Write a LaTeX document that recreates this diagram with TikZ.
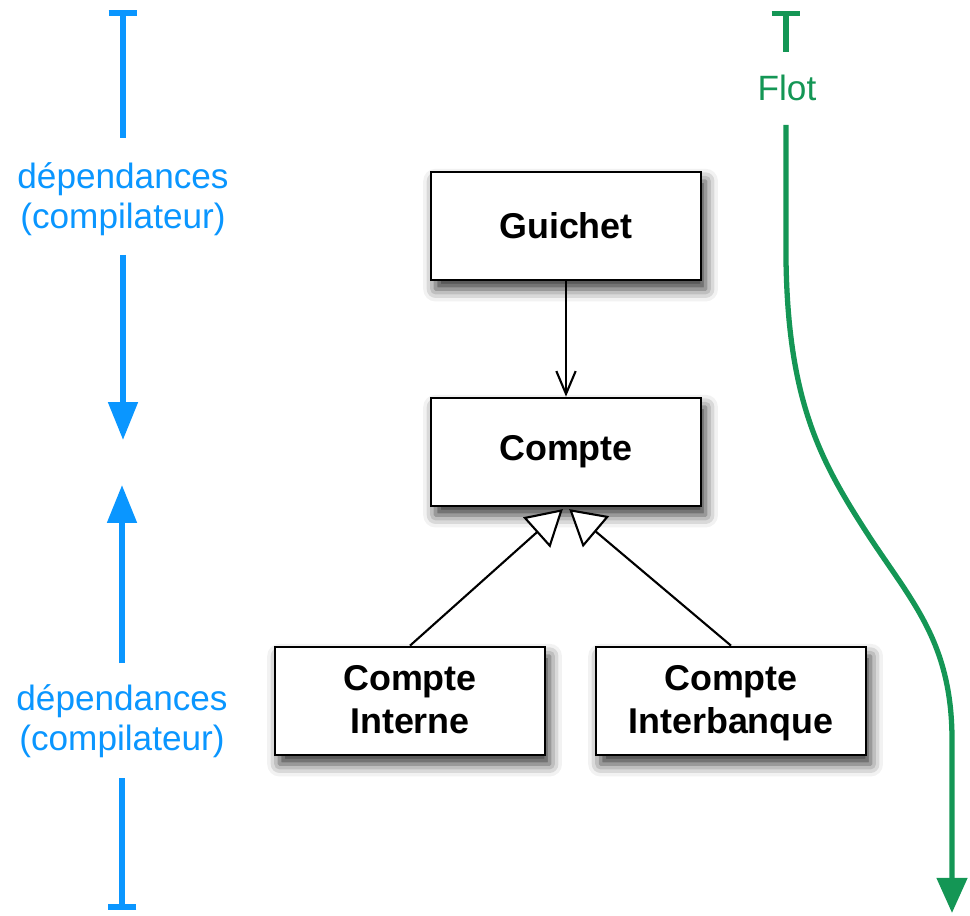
\documentclass[tikz,border=0pt]{standalone}
\usepackage{fontspec}
\setmainfont{Liberation Sans}
\usetikzlibrary{arrows.meta,shadows.blur}
\definecolor{depblue}{RGB}{10,150,255}
\definecolor{flotgreen}{RGB}{20,150,85}
\begin{document}
\begin{tikzpicture}[x=0.01cm,y=-0.01cm,
  cls/.style={draw=black, line width=0.75pt, fill=white,
    minimum width=2.70cm, minimum height=1.08cm, inner sep=0pt,
    align=center, font=\fontsize{10.2}{12}\selectfont\bfseries,
    blur shadow={shadow xshift=1.3pt, shadow yshift=-2.6pt,
      shadow blur radius=3.5pt, shadow opacity=80}},
  conn/.style={draw=black, line width=0.6pt},
  bluetxt/.style={text=depblue, align=center, inner sep=0pt,
    font=\fontsize{10}{11.3}\selectfont},
  blueline/.style={draw=depblue, line width=1.6pt},
  greenline/.style={draw=flotgreen, line width=1.5pt},
  bluehead/.style={-{Triangle[length=10.8pt,width=8.2pt]}},
]
\useasboundingbox (0,0) rectangle (970,916);

% classes
\node[cls] (g)  at (566,226) {Guichet};
\node[cls] (c)  at (566,452) {Compte};
\node[cls] (ci) at (410,701) {\rule{0pt}{9.8pt}Compte\\Interne\strut};
\node[cls] (cb) at (731,701) {\rule{0pt}{9.8pt}Compte\\Interbanque\strut};

\draw[conn, -{Straight Barb[length=6.5pt,width=5.5pt]}] (g.south) -- (c.north);
\draw[conn, -{Triangle[length=10pt,width=11.5pt,fill=white]}]
  (ci.north) -- ([xshift=-0.9pt,yshift=-0.5pt]c.south);
\draw[conn, -{Triangle[length=10pt,width=11.5pt,fill=white]}]
  (cb.north) -- ([xshift=0.9pt,yshift=-0.5pt]c.south);

% blue dependency arrows
\coordinate (b1) at (123,10);
\coordinate (b2) at (123,138);
\coordinate (b3) at (123,255);
\coordinate (b4) at (123,440);
\coordinate (b5) at (122,485);
\coordinate (b6) at (122,663);
\coordinate (b7) at (122,778);
\coordinate (b8) at (122,910);
\node[bluetxt] (d1) at (123,199) {dépendances\\(compilateur)};
\node[bluetxt] (d2) at (122,721) {dépendances\\(compilateur)};
\draw[blueline, {Bar[width=8.2pt]}-] (b1) -- (b2);
\draw[blueline, bluehead] (b3) -- (b4);
\draw[blueline, bluehead] (b6) -- (b5);
\draw[blueline, -{Bar[width=8.2pt]}] (b7) -- (b8);

% green flow
\coordinate (f1) at (786,11);
\coordinate (f2) at (786,52);
\coordinate (f3) at (786,125);
\coordinate (f4) at (952,913);
\node[text=flotgreen, inner sep=0pt, font=\fontsize{10}{12}\selectfont] (flot) at (787,88) {Flot};
\draw[greenline, {Bar[width=8.2pt]}-] (f1) -- (f2);
\draw[greenline, -{Triangle[length=10pt,width=8.5pt]}]
  (f3) -- (786,260) .. controls (788,400) and (820,460) .. (865,530)
  .. controls (910,600) and (952,640) .. (952,740) -- (f4);
\end{tikzpicture}
\end{document}
